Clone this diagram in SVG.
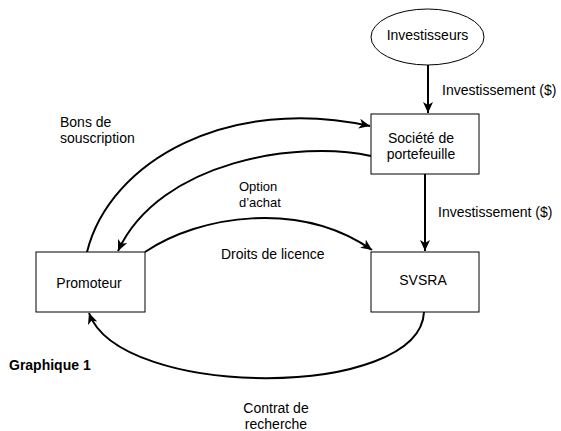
<svg xmlns="http://www.w3.org/2000/svg" width="561" height="431" viewBox="0 0 561 431">
<style>
text{font-family:"Liberation Sans",Arial,sans-serif;font-size:14px;fill:#000}
.box{fill:#fff;stroke:#000;stroke-width:1}
.c{fill:none;stroke:#000;stroke-width:2}
.m{text-anchor:middle}
.b{font-weight:bold;font-size:14px}
.s{font-size:13px}
</style>
<defs>
<marker id="ah" markerUnits="userSpaceOnUse" markerWidth="12" markerHeight="10" refX="11" refY="5" orient="auto">
<path d="M0,0 L11,5 L0,10 L3,5 Z" fill="#000"/>
</marker>
</defs>
<rect width="561" height="431" fill="#fff"/>
<g id="connectors">
<path class="c" d="M428,65 L428,113" marker-end="url(#ah)"/>
<path class="c" d="M425,174 L425,251" marker-end="url(#ah)"/>
<path class="c" d="M87,252 C110,160 230,95 370,126" marker-end="url(#ah)"/>
<path class="c" d="M371,156 C300,140 160,160 118,251" marker-end="url(#ah)"/>
<path class="c" d="M145,252 C200,215 300,200 372,250" marker-end="url(#ah)"/>
<path class="c" d="M424,312 C420,400 120,400 89,313" marker-end="url(#ah)"/>
</g>
<g id="investisseurs">
<ellipse class="box" cx="427.5" cy="37" rx="56.5" ry="28"/>
<text class="m" x="427.5" y="40">Investisseurs</text>
</g>
<g id="societe">
<rect class="box" x="371" y="114" width="108" height="60"/>
<text class="m" x="421" y="143">Société de</text>
<text class="m" x="421" y="159">portefeuille</text>
</g>
<g id="promoteur">
<rect class="box" x="36" y="252" width="109" height="60"/>
<text class="m" x="89" y="288">Promoteur</text>
</g>
<g id="svsra">
<rect class="box" x="371" y="252" width="108" height="60"/>
<text class="m" x="423" y="285">SVSRA</text>
</g>
<g id="labels">
<text x="442" y="95">Investissement ($)</text>
<text x="438" y="217">Investissement ($)</text>
<text x="60" y="127">Bons de</text>
<text x="60" y="143">souscription</text>
<text class="s" x="239" y="191">Option</text>
<text class="s" x="239" y="207">d’achat</text>
<text x="221" y="259">Droits de licence</text>
<text class="b" x="9" y="370">Graphique 1</text>
<text class="m" x="276" y="413">Contrat de</text>
<text class="m" x="276" y="429">recherche</text>
</g>
</svg>
